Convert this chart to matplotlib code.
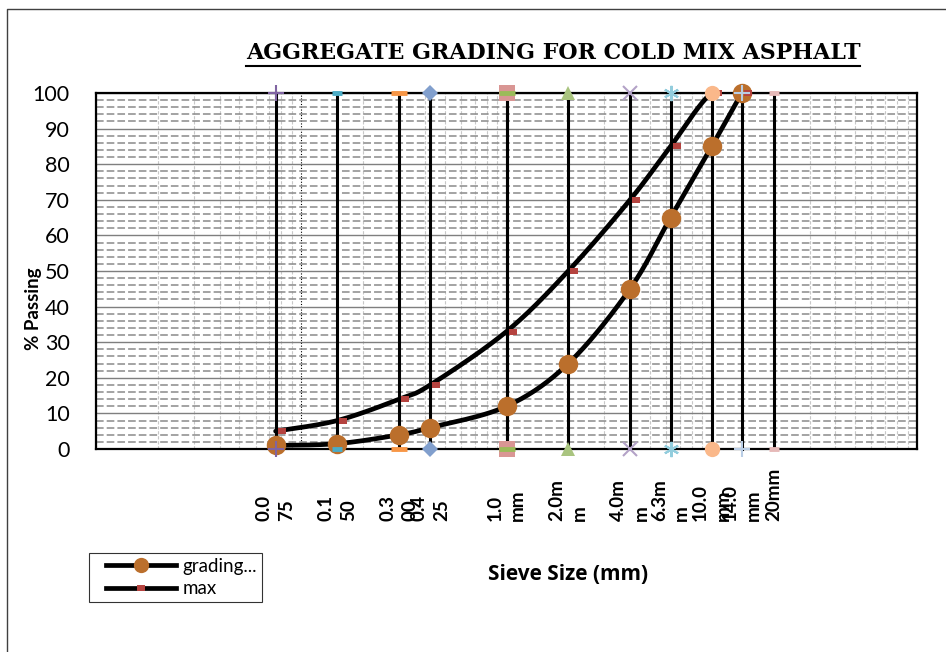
import numpy as np
import matplotlib
matplotlib.use("Agg")
import matplotlib.pyplot as plt
from matplotlib.lines import Line2D
from matplotlib.legend_handler import HandlerLine2D
from matplotlib.ticker import LogLocator, MultipleLocator, NullFormatter
import matplotlib.transforms as mtransforms

# grading data (sieve size in mm, % passing)
sizes = [0.075, 0.15, 0.3, 0.425, 1.0, 2.0, 4.0, 6.3, 10.0, 14.0]
grading = [1, 1.5, 4, 6, 12, 24, 45, 65, 85, 100]
max_pass = [5, 8, 14, 18, 33, 50, 70, 85, 100, 100]

# vertical sieve marker series
line_sizes = [0.075, 0.15, 0.3, 0.425, 1.0, 1.0, 2.0, 4.0, 6.3, 10.0, 14.0, 20.0]
line_top = 100
line_bottom = 0

# sieve labels drawn under the plot
label_sizes = [0.075, 0.15, 0.3, 0.425, 1.0, 2.0, 4.0, 6.3, 10.0, 14.0, 20.0]
label_texts = ["0.0\n75", "0.1\n50", "0.3\n00", "0.4\n25", "1.0\nmm", "2.0m\nm",
               "4.0m\nm", "6.3m\nm", "10.0\nmm", "14.0\nmm", "20mm"]

# marker style per vertical series: (marker, color, size, edge width)
line_markers = [("+", "#8064A2", 11, 1.5), ("_", "#4BACC6", 7, 3.5),
                ("_", "#F79646", 11, 3.5), ("D", "#819FCD", 8, 0),
                ("s", "#D99694", 11, 0), ("_", "#9BBB59", 11, 3.5),
                ("^", "#A9C47F", 10, 0), ("x", "#B3A2C7", 10, 1.5),
                ((6, 2, 0), "#93CDDD", 11, 1.5), ("o", "#FAB88A", 11, 0),
                ("+", "#B9CDE5", 11, 1.5), ("_", "#E6B9B8", 7, 3.5)]


def smooth(xs, ys, n=40):
    # excel style smoothed line (catmull-rom in log x)
    p = np.column_stack([np.log10(xs), ys])
    p = np.vstack([p[0], p, p[-1]])
    segs = []
    t = np.linspace(0, 1, n)[:, None]
    for i in range(1, len(p) - 2):
        p0, p1, p2, p3 = p[i - 1], p[i], p[i + 1], p[i + 2]
        c1 = p1 + (p2 - p0) / 6
        c2 = p2 - (p3 - p1) / 6
        segs.append((1 - t) ** 3 * p1 + 3 * (1 - t) ** 2 * t * c1
                    + 3 * (1 - t) * t ** 2 * c2 + t ** 3 * p2)
    out = np.vstack(segs)
    return 10 ** out[:, 0], out[:, 1]


plt.rcParams['font.family'] = ['Lato', 'DejaVu Sans']

fig = plt.figure(figsize=(9.46, 6.52), dpi=100)
ax = fig.add_axes([96 / 946, 1 - 449 / 652, 821 / 946, 356 / 652])

ax.set_xscale('log')
ax.set_xlim(0.01, 100)
ax.set_ylim(0, 100)

# grid
ax.xaxis.set_minor_locator(LogLocator(base=10, subs=np.arange(2, 10)))
ax.xaxis.set_minor_formatter(NullFormatter())
ax.set_xticklabels([])
ax.yaxis.set_major_locator(MultipleLocator(10))
ax.yaxis.set_minor_locator(MultipleLocator(2))
ax.grid(which='major', axis='y', color='#7f7f7f', lw=1.0, ls='-', zorder=0)
ax.grid(which='minor', axis='y', color='#8a8a8a', lw=1.1, ls=(0, (5, 2)), zorder=0)
ax.grid(which='major', axis='x', color='black', lw=0.8, ls=(0, (1, 1.5)), zorder=0)
ax.grid(which='minor', axis='x', color='#c8c8c8', lw=0.8, ls=(0, (3, 1.5)), zorder=0)
ax.set_axisbelow(True)
ax.tick_params(which='both', length=0)
ax.tick_params(axis='y', which='major', pad=19, labelsize=15.5)
ax.tick_params(axis='x', labelbottom=False)
for s in ax.spines.values():
    s.set_linewidth(1.6)
    s.set_color('black')

# vertical sieve lines
for x in line_sizes:
    ax.plot([x, x], [line_bottom, line_top], color='black', lw=2.2, zorder=3,
            clip_on=False)

# curves
gx, gy = smooth(sizes, grading)
mx, my = smooth(sizes, max_pass)
ax.plot(gx, gy, color='black', lw=3.4, zorder=4, solid_capstyle='round')
ax.plot(mx, my, color='black', lw=3.4, zorder=4, solid_capstyle='round')
ax.plot(sizes, grading, 'o', color='#BB6F2C', ms=14, mew=0, zorder=5, clip_on=False)
rect = [(-1.6, -1), (1.6, -1), (1.6, 1), (-1.6, 1), (-1.6, -1)]
shift = ax.transData + mtransforms.ScaledTranslation(6 / 100, 0, fig.dpi_scale_trans)
ax.plot(sizes, max_pass, ls='none', marker=rect, color='#B5433F', ms=6, mew=0,
        zorder=6, transform=shift, clip_on=False)

# end markers of sieve lines
for x, (m, c, ms, mew) in zip(line_sizes, line_markers):
    ax.plot([x, x], [line_bottom, line_top], ls='none', marker=m, color=c,
            ms=ms, mew=mew, zorder=7, clip_on=False)

# sieve labels
blend = mtransforms.blended_transform_factory(ax.transData, ax.transAxes)
for x, lab in zip(label_sizes, label_texts):
    ax.text(x, -0.202, lab, transform=blend, rotation=90, ha='center',
            va='bottom', multialignment='left', fontsize=13.5,
            fontweight='bold', linespacing=1.4)

# titles
title = fig.text(553 / 946, 1 - 53 / 652, "AGGREGATE GRADING FOR COLD MIX ASPHALT",
                 ha='center', va='center', family='DejaVu Serif',
                 fontweight='bold', fontsize=16)
fig.text(33 / 946, 1 - 309 / 652, "% Passing", rotation=90, ha='center',
         va='center', fontweight='bold', fontsize=13.5)
fig.text(568 / 946, 1 - 574 / 652, "Sieve Size (mm)", ha='center', va='center',
         family=['Open Sans', 'DejaVu Sans'], fontweight='bold', fontsize=15)

# legend
h1 = Line2D([], [], color='black', lw=3.4, marker='o', ms=11, mfc='#BB6F2C', mew=0)
h2 = Line2D([], [], color='black', lw=3.4, marker=rect, ms=6, mfc='#B5433F', mew=0)
leg = fig.legend([h1, h2], ["grading...", "max"], loc='upper left',
                 bbox_to_anchor=(89 / 946, 1 - 553 / 652), frameon=True,
                 fancybox=False, edgecolor='black', fontsize=13.5,
                 handlelength=4.4, borderpad=0.25, labelspacing=0.3,
                 handletextpad=0.35, borderaxespad=0,
                 handler_map={h1: HandlerLine2D(xpad=0.66),
                              h2: HandlerLine2D(xpad=0.66)})
leg.get_frame().set_linewidth(0.8)

# fit title to width and underline it
fig.canvas.draw()
r = fig.canvas.get_renderer()
bb = title.get_window_extent(r)
title.set_fontsize(16 * 615 / bb.width)
fig.canvas.draw()
bb = title.get_window_extent(r)
y_ul = (bb.y0 - 2) / fig.bbox.height
fig.add_artist(Line2D([bb.x0 / fig.bbox.width, bb.x1 / fig.bbox.width], [y_ul, y_ul],
                      color='black', lw=1.5, transform=fig.transFigure))

# chart area border
fig.add_artist(Line2D([7 / 946, 7 / 946, 1], [0, 1 - 9 / 652, 1 - 9 / 652],
                      color='#404040', lw=1.0, transform=fig.transFigure))

fig.savefig("out.png", dpi=100)
